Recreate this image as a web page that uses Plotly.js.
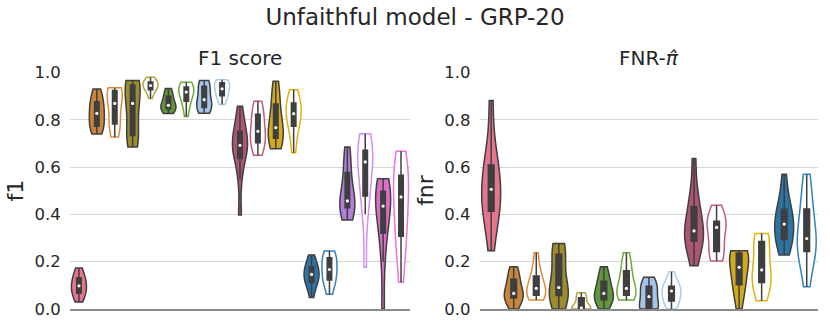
<!DOCTYPE html>
<html>
<head>
<meta charset="utf-8">
<script src="https://cdn.plot.ly/plotly-3.0.1.min.js"></script>
<style>
  body { margin: 0; background: #fff; }
  #chart { width: 830px; height: 332px; }
</style>
</head>
<body>
<div id="chart"></div>
<script>
// Groups: first one only has the filled variant, the rest come in pairs (filled, outline)
const f1Labels = ['g0', 'g1a', 'g1b', 'g2a', 'g2b', 'g3a', 'g3b', 'g4a', 'g4b', 'g5a', 'g5b',
                  'g6a', 'g6b', 'g7a', 'g7b', 'g8a', 'g8b', 'g9a', 'g9b'];
const fnrLabels = ['g0', 'g1a', 'g1b', 'g2a', 'g2b', 'g3a', 'g3b', 'g4a', 'g4b', 'g5a', 'g5b',
                   'g6a', 'g6b', 'g7a', 'g7b'];

// F1 score samples
const f1Values = [
    [0.03, 0.05, 0.065, 0.07, 0.09, 0.098, 0.105, 0.125, 0.135, 0.15, 0.173],
    [0.74, 0.76, 0.77, 0.782, 0.81, 0.827, 0.845, 0.865, 0.88, 0.905, 0.93],
    [0.727, 0.76, 0.78, 0.79, 0.84, 0.869, 0.89, 0.915, 0.927, 0.932, 0.935],
    [0.685, 0.71, 0.73, 0.745, 0.82, 0.869, 0.9, 0.94, 0.95, 0.96, 0.966],
    [0.89, 0.915, 0.925, 0.931, 0.94, 0.945, 0.952, 0.957, 0.961, 0.97, 0.98],
    [0.827, 0.835, 0.845, 0.851, 0.856, 0.861, 0.872, 0.89, 0.902, 0.918, 0.932],
    [0.814, 0.85, 0.875, 0.889, 0.905, 0.917, 0.925, 0.934, 0.94, 0.95, 0.959],
    [0.828, 0.84, 0.85, 0.858, 0.87, 0.885, 0.9, 0.93, 0.946, 0.955, 0.966],
    [0.865, 0.885, 0.9, 0.906, 0.92, 0.931, 0.94, 0.952, 0.958, 0.963, 0.969],
    [0.397, 0.55, 0.63, 0.656, 0.675, 0.692, 0.71, 0.74, 0.756, 0.8, 0.857],
    [0.65, 0.68, 0.7, 0.712, 0.735, 0.751, 0.77, 0.81, 0.828, 0.85, 0.878],
    [0.678, 0.7, 0.72, 0.728, 0.75, 0.767, 0.79, 0.84, 0.875, 0.92, 0.963],
    [0.661, 0.72, 0.77, 0.782, 0.81, 0.826, 0.845, 0.862, 0.874, 0.9, 0.927],
    [0.049, 0.09, 0.11, 0.12, 0.135, 0.146, 0.155, 0.17, 0.182, 0.2, 0.228],
    [0.062, 0.1, 0.12, 0.13, 0.15, 0.167, 0.185, 0.205, 0.22, 0.232, 0.245],
    [0.376, 0.41, 0.425, 0.436, 0.445, 0.457, 0.49, 0.54, 0.59, 0.64, 0.685],
    [0.176, 0.4, 0.47, 0.5, 0.58, 0.622, 0.64, 0.66, 0.675, 0.71, 0.741],
    [0.0, 0.2, 0.31, 0.35, 0.4, 0.435, 0.46, 0.49, 0.5, 0.53, 0.551],
    [0.113, 0.25, 0.3, 0.33, 0.41, 0.474, 0.51, 0.55, 0.57, 0.62, 0.667]
];

// FNR samples
const fnrValues = [
    [0.246, 0.36, 0.41, 0.425, 0.47, 0.506, 0.54, 0.59, 0.615, 0.7, 0.882],
    [0.0, 0.03, 0.045, 0.05, 0.06, 0.066, 0.085, 0.115, 0.13, 0.155, 0.179],
    [0.038, 0.05, 0.057, 0.062, 0.075, 0.087, 0.1, 0.13, 0.142, 0.18, 0.238],
    [0.0, 0.03, 0.055, 0.064, 0.08, 0.091, 0.14, 0.22, 0.235, 0.26, 0.277],
    [0.0, 0.0, 0.0, 0.0, 0.002, 0.005, 0.02, 0.04, 0.05, 0.06, 0.069],
    [0.0, 0.025, 0.038, 0.043, 0.055, 0.066, 0.08, 0.11, 0.12, 0.15, 0.179],
    [0.038, 0.05, 0.057, 0.062, 0.075, 0.087, 0.11, 0.15, 0.165, 0.2, 0.238],
    [0.0, 0.0, 0.0, 0.0, 0.03, 0.052, 0.07, 0.09, 0.098, 0.115, 0.134],
    [0.0, 0.02, 0.033, 0.038, 0.06, 0.076, 0.082, 0.092, 0.097, 0.12, 0.157],
    [0.183, 0.25, 0.285, 0.297, 0.315, 0.33, 0.36, 0.41, 0.44, 0.5, 0.636],
    [0.203, 0.22, 0.24, 0.252, 0.3, 0.345, 0.355, 0.365, 0.373, 0.4, 0.439],
    [0.0, 0.06, 0.1, 0.11, 0.15, 0.176, 0.2, 0.232, 0.238, 0.242, 0.246],
    [0.035, 0.08, 0.11, 0.12, 0.14, 0.165, 0.2, 0.27, 0.29, 0.305, 0.319],
    [0.228, 0.27, 0.29, 0.305, 0.34, 0.359, 0.38, 0.41, 0.425, 0.48, 0.57],
    [0.094, 0.2, 0.24, 0.252, 0.28, 0.298, 0.33, 0.4, 0.43, 0.5, 0.57]
];

// palette: [filled, outline] per group
const fillColors = ['#e5758c', '#c98638', '#9c8c2e', '#5f983a', '#a3c5e9',
                    '#ad5673', '#d3aa1c', '#2c74a6', '#b17fd8', '#db6fc7'];
const lineColors = ['#f07a92', '#e08a3a', '#b3a23e', '#6cab3b', '#a9cdf0',
                    '#c05b7b', '#e1b20e', '#2f82ba', '#d28ef2', '#ef70d8'];

const dark = '#3f3f3f';

function median(arr) {
    const s = arr.slice().sort((a, b) => a - b);
    const m = Math.floor(s.length / 2);
    return s.length % 2 ? s[m] : (s[m - 1] + s[m]) / 2;
}

function buildTraces(labels, values, xa, ya) {
    const traces = labels.map((lab, i) => {
        const group = i === 0 ? 0 : Math.ceil(i / 2);
        const filled = i === 0 || i % 2 === 1;
        return {
            type: 'violin',
            x: values[i].map(() => lab),
            y: values[i],
            xaxis: xa, yaxis: ya,
            spanmode: 'hard',
            scalemode: 'width',
            width: 0.84,
            points: false,
            fillcolor: filled ? fillColors[group] : '#ffffff',
            line: { color: filled ? dark : lineColors[group], width: 1.5 },
            box: { visible: true, width: 0.3, fillcolor: dark, line: { color: dark, width: 1.5 } },
            meanline: { visible: false },
            hoverinfo: 'skip',
            showlegend: false
        };
    });
    // white median dots on top of the inner boxes
    traces.push({
        type: 'scatter',
        mode: 'markers',
        x: labels,
        y: values.map(median),
        xaxis: xa, yaxis: ya,
        marker: { color: '#ffffff', size: 3.2, symbol: 'circle' },
        hoverinfo: 'skip',
        showlegend: false
    });
    return traces;
}

const data = buildTraces(f1Labels, f1Values, 'x', 'y')
    .concat(buildTraces(fnrLabels, fnrValues, 'x2', 'y2'));

const font = { family: 'DejaVu Sans, sans-serif', color: '#262626' };

const yBase = {
    range: [0, 1.002],
    tickvals: [0, 0.2, 0.4, 0.6, 0.8, 1.0],
    ticktext: ['0.0', '0.2', '0.4', '0.6', '0.8', '1.0'],
    showgrid: true,
    gridcolor: '#d6d6d6',
    gridwidth: 1,
    zeroline: false,
    showline: false,
    ticks: 'outside',
    ticklen: 5,
    tickcolor: 'rgba(0,0,0,0)',
    tickfont: { size: 16.5 },
    automargin: false
};

const xBase = {
    type: 'category',
    showticklabels: false,
    showgrid: false,
    zeroline: false,
    showline: true,
    linecolor: '#8a8a8a',
    linewidth: 2,
    ticks: ''
};

const layout = {
    width: 830,
    height: 332,
    margin: { l: 70, r: 12, t: 72, b: 23 },
    paper_bgcolor: '#ffffff',
    plot_bgcolor: '#ffffff',
    font: font,
    violinmode: 'overlay',
    title: {
        text: 'Unfaithful model - GRP-20',
        font: { size: 23 },
        x: 0.5, xanchor: 'center',
        yref: 'container', y: 0.948, yanchor: 'middle'
    },
    xaxis: Object.assign({}, xBase, {
        domain: [0, 0.4545],
        categoryorder: 'array', categoryarray: f1Labels,
        range: [-0.5, f1Labels.length - 0.5], anchor: 'y'
    }),
    xaxis2: Object.assign({}, xBase, {
        domain: [0.548, 1],
        categoryorder: 'array', categoryarray: fnrLabels,
        range: [-0.5, fnrLabels.length - 0.5], anchor: 'y2'
    }),
    yaxis: Object.assign({}, yBase, {
        anchor: 'x',
        title: { text: 'f1', font: { size: 22 }, standoff: 4 }
    }),
    yaxis2: Object.assign({}, yBase, {
        anchor: 'x2',
        title: { text: 'fnr', font: { size: 22 }, standoff: 4 }
    }),
    annotations: [
        {
            text: 'F1 score', xref: 'x domain', yref: 'paper', x: 0.5, y: 1,
            xanchor: 'center', yanchor: 'bottom', yshift: 0, showarrow: false,
            font: { size: 20 }
        },
        {
            text: 'FNR-<i>π̂</i>', xref: 'x2 domain', yref: 'paper', x: 0.5, y: 1,
            xanchor: 'center', yanchor: 'bottom', yshift: 0, showarrow: false,
            font: { size: 20 }
        }
    ]
};

Plotly.newPlot('chart', data, layout, { staticPlot: true, displayModeBar: false });
</script>
</body>
</html>
